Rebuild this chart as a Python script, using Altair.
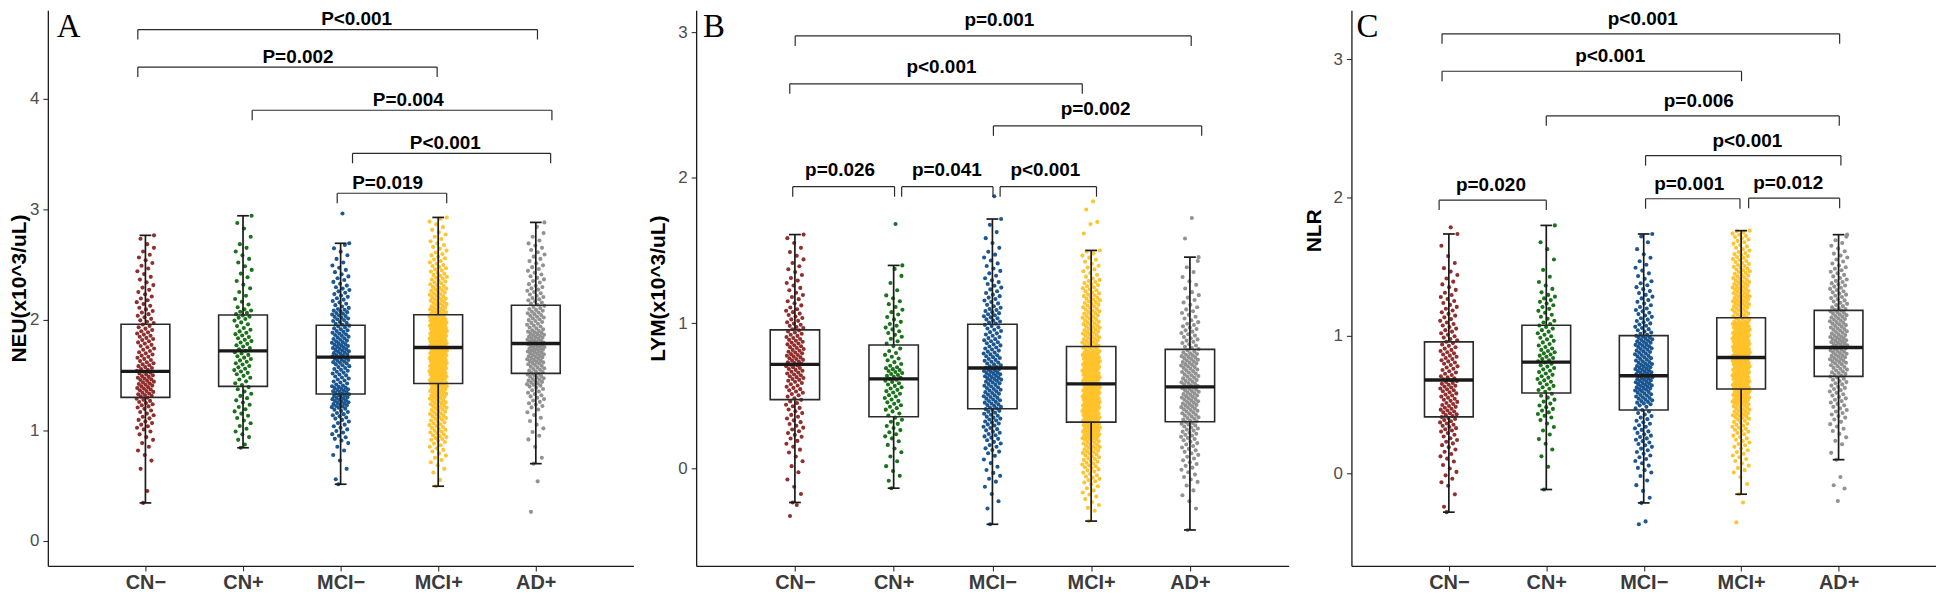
import altair as alt
import pandas as pd

GROUPS = ["CN\u2212", "CN+", "MCI\u2212", "MCI+", "AD+"]
COLORS = ["#8B2323", "#0E6B0E", "#104E8B", "#FFC125", "#8C8C8C"]
BIN_W = 0.1

# ---------------- Panel A : NEU ----------------
NEU_MIN = [0.342, 0.841, 0.511, 0.493, 0.697]
NEU_Q1 = [1.297, 1.396, 1.328, 1.423, 1.514]
NEU_MED = [1.532, 1.718, 1.661, 1.748, 1.784]
NEU_Q3 = [1.959, 2.042, 1.950, 2.045, 2.130]
NEU_MAX = [2.763, 2.940, 2.691, 2.925, 2.880]
NEU_OUT = [[], [], [2.961], [], [0.537, 0.261]]
NEU_BIN0 = 0.2
NEU_CNT = [
    [0, 0, 1, 0, 1, 2, 3, 4, 7, 7, 10, 14, 14, 12, 10, 9, 10, 8, 7, 6, 5, 4, 4, 4, 3, 1, 0, 0],
    [0, 0, 0, 0, 0, 0, 1, 4, 4, 5, 5, 5, 6, 8, 8, 8, 8, 6, 9, 4, 3, 3, 3, 3, 3, 1, 2, 0],
    [0, 0, 0, 1, 1, 2, 3, 7, 7, 10, 18, 18, 11, 12, 16, 17, 14, 12, 14, 8, 8, 6, 5, 3, 3, 0, 0, 0],
    [0, 0, 0, 1, 3, 5, 7, 12, 12, 14, 16, 19, 24, 28, 30, 32, 30, 28, 20, 16, 14, 12, 10, 8, 6, 5, 4, 1],
    [0, 0, 0, 0, 0, 1, 1, 3, 3, 4, 8, 9, 15, 14, 18, 20, 18, 12, 13, 10, 9, 7, 6, 5, 5, 3, 1, 0],
]
NEU_BRK_X1 = [0.922, 0.922, 2.094, 3.122, 2.965]
NEU_BRK_X2 = [5.017, 3.989, 5.165, 5.152, 4.087]
NEU_BRK_Y = [4.625, 4.285, 3.895, 3.505, 3.144]
NEU_BRK_LAB = ["P<0.001", "P=0.002", "P=0.004", "P<0.001", "P=0.019"]
NEU_LAB_X = [3.164, 2.563, 3.693, 4.073, 3.482]

# ---------------- Panel B : LYM ----------------
LYM_MIN = [-0.233, -0.135, -0.383, -0.361, -0.422]
LYM_Q1 = [0.474, 0.356, 0.411, 0.319, 0.322]
LYM_MED = [0.716, 0.616, 0.691, 0.582, 0.561]
LYM_Q3 = [0.953, 0.849, 0.992, 0.839, 0.819]
LYM_MAX = [1.608, 1.396, 1.715, 1.499, 1.453]
LYM_OUT = [[-0.250, -0.326], [1.681], [1.871], [1.836, 1.780, 1.695, 1.680, 1.615], [1.722, 1.581]]
LYM_BIN0 = -0.5
LYM_CNT = [
    [0, 0, 0, 2, 2, 3, 5, 8, 8, 9, 12, 16, 18, 16, 13, 10, 7, 6, 5, 4, 3, 0, 0, 0],
    [0, 0, 0, 0, 3, 3, 4, 7, 7, 10, 11, 15, 8, 6, 8, 6, 5, 2, 2, 0, 0, 0, 0, 0],
    [0, 0, 2, 2, 5, 4, 9, 12, 15, 18, 18, 22, 16, 14, 12, 14, 10, 8, 6, 5, 3, 2, 0, 0],
    [0, 0, 5, 7, 12, 16, 20, 29, 30, 34, 32, 30, 32, 22, 20, 18, 17, 14, 8, 7, 0, 0, 0, 0],
    [0, 0, 2, 3, 6, 8, 10, 14, 18, 20, 20, 18, 20, 12, 11, 8, 6, 4, 3, 1, 0, 0, 0, 0],
]
LYM_BRK_X1 = [1.003, 0.948, 3.010, 0.978, 2.081, 3.078]
LYM_BRK_X2 = [5.013, 3.910, 5.119, 2.009, 3.006, 4.054]
LYM_BRK_Y = [2.973, 2.644, 2.355, 1.937, 1.937, 1.937]
LYM_BRK_LAB = ["p=0.001", "p<0.001", "p=0.002", "p=0.026", "p=0.041", "p<0.001"]
LYM_LAB_X = [3.07, 2.484, 4.045, 1.457, 2.539, 3.536]

# ---------------- Panel C : NLR ----------------
NLR_MIN = [-0.279, -0.115, -0.212, -0.149, 0.101]
NLR_Q1 = [0.411, 0.584, 0.461, 0.613, 0.704]
NLR_MED = [0.678, 0.807, 0.709, 0.841, 0.913]
NLR_Q3 = [0.954, 1.074, 0.999, 1.129, 1.182]
NLR_MAX = [1.735, 1.797, 1.735, 1.759, 1.730]
NLR_OUT = [[1.783], [], [-0.346, -0.366], [-0.209, -0.353], [-0.024, -0.084, -0.108, -0.198]]
NLR_BIN0 = -0.4
NLR_CNT = [
    [0, 1, 1, 4, 4, 6, 8, 12, 15, 13, 15, 11, 12, 10, 9, 8, 7, 5, 4, 2, 1, 0],
    [0, 0, 0, 0, 1, 2, 3, 4, 8, 7, 10, 10, 12, 9, 9, 7, 8, 4, 2, 1, 2, 0],
    [0, 0, 2, 3, 6, 8, 10, 9, 9, 18, 22, 22, 18, 20, 12, 10, 8, 7, 5, 4, 2, 1],
    [0, 0, 0, 2, 6, 8, 10, 14, 20, 27, 30, 32, 34, 34, 32, 18, 22, 20, 16, 14, 10, 7],
    [0, 0, 0, 0, 0, 1, 4, 6, 9, 10, 12, 16, 20, 22, 18, 18, 12, 12, 9, 7, 5, 1],
]
NLR_BRK_X1 = [0.930, 0.930, 2.000, 3.019, 0.900, 3.019, 4.077]
NLR_BRK_X2 = [5.011, 4.004, 5.007, 5.024, 2.000, 3.988, 5.011]
NLR_BRK_Y = [3.184, 2.913, 2.590, 2.302, 1.980, 1.990, 1.994]
NLR_BRK_LAB = ["p<0.001", "p<0.001", "p=0.006", "p<0.001", "p=0.020", "p=0.001", "p=0.012"]
NLR_LAB_X = [2.990, 2.656, 3.565, 4.064, 1.432, 3.467, 4.483]

FONT = "Liberation Sans"
PLOT_H = 558
INK = "#1a1a1a"


def points_df(bin0, counts, mins, maxs, outs):
    rows = []
    for g, name in enumerate(GROUPS):
        vals = [mins[g], maxs[g]] + list(outs[g])
        for b, k in enumerate(counts[g]):
            lo = max(bin0 + BIN_W * b, mins[g])
            hi = min(bin0 + BIN_W * (b + 1), maxs[g])
            for j in range(k):
                vals.append(lo + (j + 0.5) / k * (hi - lo))
        for i, v in enumerate(vals):
            jit = (((i * 0.6180339887 + 0.37) % 1.0) - 0.5) * 0.18
            rows.append({"group": name, "x": g + 1 + jit, "y": v})
    return pd.DataFrame(rows)


def stats_df(mins, q1, med, q3, maxs):
    xs = [i + 1 for i in range(len(GROUPS))]
    return pd.DataFrame({
        "group": GROUPS, "x": xs,
        "xl": [x - 0.25 for x in xs], "xr": [x + 0.25 for x in xs],
        "cl": [x - 0.06 for x in xs], "cr": [x + 0.06 for x in xs],
        "lo": mins, "q1": q1, "med": med, "q3": q3, "hi": maxs,
    })


def panel(letter, ytitle, ydom, yticks, width, tpad, title_y,
          bin0, counts, mins, q1, med, q3, maxs, outs,
          bx1, bx2, by, blab, blx, label_dy, letter_x):
    px_per_unit = PLOT_H / (ydom[1] - ydom[0])
    tip = 10.0 / px_per_unit
    pts = points_df(bin0, counts, mins, maxs, outs)
    st = stats_df(mins, q1, med, q3, maxs)
    br = pd.DataFrame({"x1": bx1, "x2": bx2, "y": by,
                       "ytip": [v - tip for v in by], "label": blab, "lx": blx})

    label_expr = "[''," + ",".join("'" + g + "'" for g in GROUPS) + "][datum.value]"
    xscale = alt.Scale(domain=[0, 6], nice=False, zero=False)
    yscale = alt.Scale(domain=ydom, nice=False, zero=False)
    yaxis_kw = dict(values=yticks, format="d", title=ytitle, grid=False,
                    domainColor=INK, domainWidth=1.3,
                    tickColor="#333333", tickSize=5, tickWidth=1.1,
                    labelFont=FONT, labelFontSize=17, labelColor="#4d4d4d", labelPadding=4,
                    titleFont=FONT, titleFontSize=21, titleFontWeight="bold",
                    titleColor="#000000", titlePadding=tpad)
    if title_y is not None:
        yaxis_kw["titleY"] = title_y
    xaxis = alt.Axis(values=[1, 2, 3, 4, 5], labelExpr=label_expr, title=None, grid=False,
                     domainColor=INK, domainWidth=1.3,
                     tickColor="#333333", tickSize=5, tickWidth=1.1,
                     labelFont=FONT, labelFontSize=20, labelFontWeight="bold",
                     labelColor="#3b3b3b", labelPadding=2)

    points = alt.Chart(pts).mark_circle(size=17, opacity=0.95).encode(
        x=alt.X("x:Q", scale=xscale, axis=xaxis),
        y=alt.Y("y:Q", scale=yscale, axis=alt.Axis(**yaxis_kw)),
        color=alt.Color("group:N", scale=alt.Scale(domain=GROUPS, range=COLORS), legend=None),
    )
    base = alt.Chart(st)
    wl = base.mark_rule(color=INK, strokeWidth=1.7).encode(x="x:Q", y="lo:Q", y2="q1")
    wh = base.mark_rule(color=INK, strokeWidth=1.7).encode(x="x:Q", y="q3:Q", y2="hi")
    cl = base.mark_rule(color=INK, strokeWidth=1.7).encode(x="cl:Q", x2="cr", y="lo:Q")
    ch = base.mark_rule(color=INK, strokeWidth=1.7).encode(x="cl:Q", x2="cr", y="hi:Q")
    box = base.mark_rect(fillOpacity=0, stroke="#2a2a2a", strokeWidth=1.6).encode(
        x="xl:Q", x2="xr", y="q1:Q", y2="q3")
    md = base.mark_rule(color=INK, strokeWidth=3.4).encode(x="xl:Q", x2="xr", y="med:Q")

    bb = alt.Chart(br)
    hl = bb.mark_rule(color="#2b2b2b", strokeWidth=1.2).encode(x="x1:Q", x2="x2", y="y:Q")
    vl = bb.mark_rule(color="#2b2b2b", strokeWidth=1.2).encode(x="x1:Q", y="y:Q", y2="ytip")
    vr = bb.mark_rule(color="#2b2b2b", strokeWidth=1.2).encode(x="x2:Q", y="y:Q", y2="ytip")
    tx = bb.mark_text(font=FONT, fontSize=19, fontWeight="bold", color="#000000",
                      baseline="alphabetic", align="center", dy=label_dy).encode(
        x="lx:Q", y="y:Q", text="label:N")

    let = alt.Chart(pd.DataFrame({"t": [letter]})).mark_text(
        font="Liberation Serif", fontSize=33, color="#000000",
        align="left", baseline="alphabetic").encode(
        x=alt.value(letter_x), y=alt.value(27), text="t:N")

    return alt.layer(points, wl, wh, cl, ch, box, md, hl, vl, vr, tx, let).properties(
        width=width, height=PLOT_H)


pA = panel("A", "NEU(x10^3/uL)", [-0.228, 4.80], [0, 1, 2, 3, 4], 588, 0, None,
           NEU_BIN0, NEU_CNT, NEU_MIN, NEU_Q1, NEU_MED, NEU_Q3, NEU_MAX, NEU_OUT,
           NEU_BRK_X1, NEU_BRK_X2, NEU_BRK_Y, NEU_BRK_LAB, NEU_LAB_X, -4.5, 9)
pB = panel("B", "LYM(x10^3/uL)", [-0.669, 3.150], [0, 1, 2, 3], 595, 9, None,
           LYM_BIN0, LYM_CNT, LYM_MIN, LYM_Q1, LYM_MED, LYM_Q3, LYM_MAX, LYM_OUT,
           LYM_BRK_X1, LYM_BRK_X2, LYM_BRK_Y, LYM_BRK_LAB, LYM_LAB_X, -10.5, 7)
pC = panel("C", "NLR", [-0.668, 3.355], [0, 1, 2, 3], 587, 9, 221,
           NLR_BIN0, NLR_CNT, NLR_MIN, NLR_Q1, NLR_MED, NLR_Q3, NLR_MAX, NLR_OUT,
           NLR_BRK_X1, NLR_BRK_X2, NLR_BRK_Y, NLR_BRK_LAB, NLR_LAB_X, -9, 5)

chart = alt.hconcat(pA, pB, pC, spacing=63, bounds="flush").properties(
    padding={"left": 0, "top": 0, "right": 0, "bottom": 0}
).configure(
    font=FONT, background="white", view=alt.ViewConfig(strokeWidth=0, stroke="transparent")
)

chart.save("out.html", embed_options={"renderer": "svg", "actions": False})
